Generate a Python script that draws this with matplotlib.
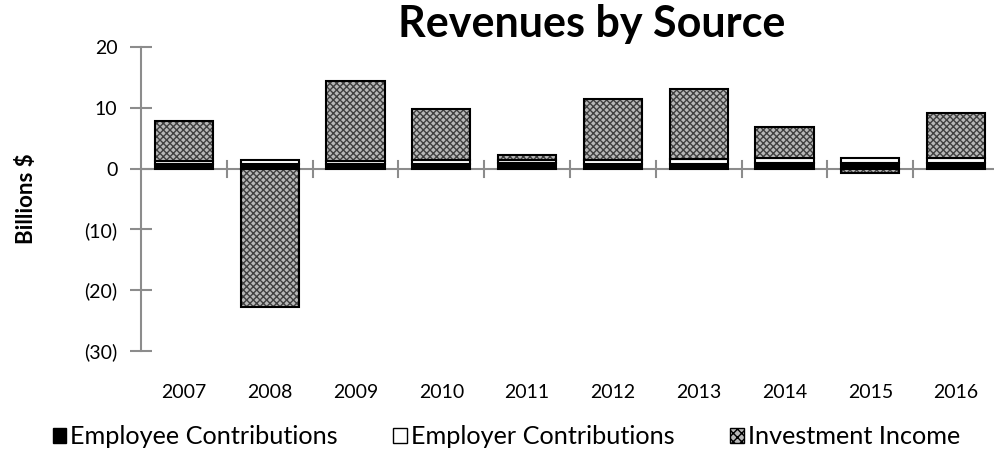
import matplotlib
matplotlib.use("Agg")
from matplotlib import pyplot as plt
from matplotlib.patches import Patch
import numpy as np

years = ["2007", "2008", "2009", "2010", "2011", "2012", "2013", "2014", "2015", "2016"]
employee = [0.7, 0.8, 0.7, 0.8, 0.9, 0.8, 0.8, 0.9, 0.9, 0.9]
employer = [0.6, 0.6, 0.6, 0.6, 0.6, 0.7, 0.8, 0.8, 0.9, 0.9]
investment = [6.5, -22.8, 13.2, 8.5, 0.8, 9.9, 11.6, 5.1, -0.7, 7.4]
yticks = [20, 10, 0, -10, -20, -30]
ytick_labels = ["20", "10", "0", "(10)", "(20)", "(30)"]

plt.rcParams["font.family"] = ["Lato", "DejaVu Sans"]

fig = plt.figure(figsize=(9.95, 4.57), dpi=100)
ax = fig.add_axes([141 / 995, 106.3 / 457, 858 / 995, 303.4 / 457])

x = np.arange(len(years))
w = 0.68
emp = np.array(employee)
er = np.array(employer)
inv = np.array(investment)
inv_bottom = np.where(inv >= 0, emp + er, 0)

ax.bar(x, emp, w, color="black", edgecolor="black", linewidth=1.5, zorder=3)
ax.bar(x, er, w, bottom=emp, color="white", edgecolor="black", linewidth=1.5, zorder=3)
# checker fill then black outline
ax.bar(x, inv, w, bottom=inv_bottom, color="#b8b8b8", edgecolor="#404040",
       hatch="xxxxx", linewidth=0, zorder=3)
ax.bar(x, inv, w, bottom=inv_bottom, fill=False, edgecolor="black", linewidth=1.5, zorder=4)

ax.set_xlim(-0.5, len(years) - 0.5)
ax.set_ylim(-30, 20)

gray = "#8c8c8c"
ax.axhline(0, color=gray, linewidth=1.5, zorder=2)
for b in np.arange(0.5, len(years) - 0.5, 1):
    ax.plot([b, b], [-1.3, 1.3], color=gray, linewidth=1.5, zorder=2)

for s in ["top", "right", "bottom"]:
    ax.spines[s].set_visible(False)
ax.spines["left"].set_color(gray)
ax.spines["left"].set_linewidth(1.5)

ax.set_yticks(yticks)
ax.set_yticklabels(ytick_labels, fontsize=14)
ax.tick_params(axis="y", direction="inout", length=16, width=1.5, color=gray, pad=9)
ax.set_xticks(x)
ax.set_xticklabels(years, fontsize=14)
ax.tick_params(axis="x", length=0, pad=24)

ax.set_ylabel("Billions $", fontsize=16, fontweight="bold", labelpad=34)
fig.text(0.595, 0.948, "Revenues by Source", ha="center", va="center",
         fontsize=31, fontweight="bold")

handles = [
    Patch(facecolor="black", edgecolor="black", label="Employee Contributions"),
    Patch(facecolor="white", edgecolor="black", label="Employer Contributions"),
    Patch(facecolor="#b8b8b8", edgecolor="black", hatch="xxxx", label="Investment Income"),
]
fig.legend(handles=handles, loc="center", bbox_to_anchor=(0.509, 0.044), ncol=3,
           frameon=False, fontsize=18.2, handlelength=0.55, handleheight=0.55,
           handletextpad=0.15, columnspacing=2.2)

fig.savefig("out.png", dpi=100)
